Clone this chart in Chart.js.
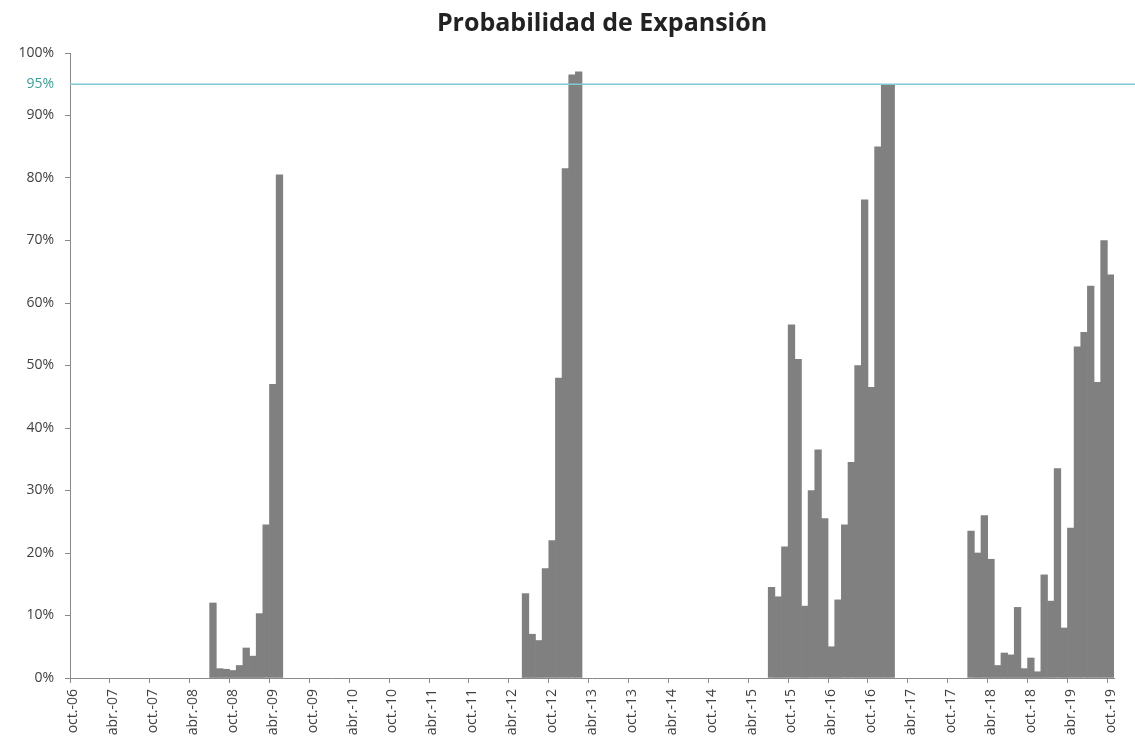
<!DOCTYPE html>
<html><head><meta charset="utf-8">
<script src="https://cdn.jsdelivr.net/npm/chart.js@4"></script>
<style>html,body{margin:0;padding:0;background:#fff}#wrap{width:1135px;height:749px}</style>
</head><body><div id="wrap"><canvas id="c" width="1135" height="749"></canvas></div>
<script>
const chartTitle = 'Probabilidad de Expansión';
const monthNames = ['ene.','feb.','mar.','abr.','may.','jun.','jul.','ago.','sep.','oct.','nov.','dic.'];
const startYear = 2006, startMonth = 9, monthCount = 157;
const categories = [];
for (let i = 0; i < monthCount; i++) {
  const m = (startMonth + i) % 12;
  const y = startYear + Math.floor((startMonth + i) / 12);
  categories.push(monthNames[m] + '-' + String(y % 100).padStart(2, '0'));
}
const tickLabels = ['oct.-06','abr.-07','oct.-07','abr.-08','oct.-08','abr.-09','oct.-09','abr.-10','oct.-10',
  'abr.-11','oct.-11','abr.-12','oct.-12','abr.-13','oct.-13','abr.-14','oct.-14','abr.-15','oct.-15',
  'abr.-16','oct.-16','abr.-17','oct.-17','abr.-18','oct.-18','abr.-19','oct.-19'];
const probability = [
  /* 2006 oct-dic */ null,null,null,
  /* 2007 */ null,null,null,null,null,null,null,null,null,null,null,null,
  /* 2008 */ null,null,null,null,null,null,12,1.5,1.4,1.2,2,4.8,
  /* 2009 */ 3.5,10.3,24.5,47,80.5,null,null,null,null,null,null,null,
  /* 2010 */ null,null,null,null,null,null,null,null,null,null,null,null,
  /* 2011 */ null,null,null,null,null,null,null,null,null,null,null,null,
  /* 2012 */ null,null,null,null,null,13.5,7,6,17.5,22,48,81.5,
  /* 2013 */ 96.5,97,null,null,null,null,null,null,null,null,null,null,
  /* 2014 */ null,null,null,null,null,null,null,null,null,null,null,null,
  /* 2015 */ null,null,null,null,null,null,14.5,13,21,56.5,51,11.5,
  /* 2016 */ 30,36.5,25.5,5,12.5,24.5,34.5,50,76.5,46.5,85,95,
  /* 2017 */ 95,null,null,null,null,null,null,null,null,null,null,null,
  /* 2018 */ 23.5,20,26,19,2,4,3.7,11.3,1.5,3.2,1,16.5,
  /* 2019 */ 12.3,33.5,8,24,53,55.3,62.7,47.3,70,64.5
];
const yTickValues = [0,10,20,30,40,50,60,70,80,90,95,100];
const thresholdValue = 95;

const thresholdLine = {
  id: 'thresholdLine',
  afterDatasetsDraw(chart) {
    const {ctx, chartArea, scales} = chart;
    const y = scales.y.getPixelForValue(thresholdValue);
    ctx.save();
    ctx.strokeStyle = '#7fc9d3';
    ctx.lineWidth = 1.5;
    ctx.beginPath();
    ctx.moveTo(chartArea.left, y);
    ctx.lineTo(chart.width, y);
    ctx.stroke();
    ctx.restore();
  }
};

const titleText = {
  id: 'titleText',
  afterDraw(chart) {
    const ctx = chart.ctx;
    ctx.save();
    ctx.fillStyle = '#222';
    ctx.font = 'bold 25px "Open Sans"';
    ctx.textAlign = 'center';
    ctx.textBaseline = 'alphabetic';
    ctx.fillText(chartTitle, 602, 31);
    ctx.restore();
  }
};

new Chart(document.getElementById('c'), {
  type: 'bar',
  data: {
    labels: categories,
    datasets: [{
      data: probability,
      backgroundColor: '#808080',
      borderWidth: 0,
      barPercentage: 1,
      categoryPercentage: 1
    }]
  },
  options: {
    responsive: false,
    devicePixelRatio: 1,
    animation: false,
    layout: { padding: { left: 0, right: 21, top: 53, bottom: 0 } },
    plugins: {
      legend: { display: false },
      tooltip: { enabled: false },
      title: { display: false }
    },
    scales: {
      x: {
        type: 'category',
        offset: true,
        grid: {
          offset: true,
          drawOnChartArea: false,
          drawTicks: true,
          tickLength: 5,
          color: (c) => (c.index % 6 === 0 ? '#8a8a8a' : 'rgba(0,0,0,0)')
        },
        border: { color: '#8a8a8a', width: 1 },
        ticks: {
          autoSkip: false,
          maxRotation: 90,
          minRotation: 90,
          padding: 6,
          color: '#404040',
          font: { family: 'Open Sans', size: 14 },
          callback: (v, i) => (i % 6 === 0 ? tickLabels[i / 6] : '')
        },
        afterFit: (s) => { s.height = 71; }
      },
      y: {
        min: 0,
        max: 100,
        afterBuildTicks: (s) => { s.ticks = yTickValues.map(v => ({ value: v })); },
        grid: {
          drawOnChartArea: false,
          tickLength: 5,
          color: (c) => (c.tick && c.tick.value === 95 ? 'rgba(0,0,0,0)' : '#8a8a8a')
        },
        border: { color: '#8a8a8a', width: 1 },
        ticks: {
          autoSkip: false,
          padding: 11,
          color: (c) => (c.tick && c.tick.value === 95 ? '#3a9e96' : '#404040'),
          font: { family: 'Open Sans', size: 14 },
          callback: (v) => v + '%'
        },
        afterFit: (s) => { s.width = 70; }
      }
    }
  },
  plugins: [thresholdLine, titleText]
});
</script>
</body></html>
